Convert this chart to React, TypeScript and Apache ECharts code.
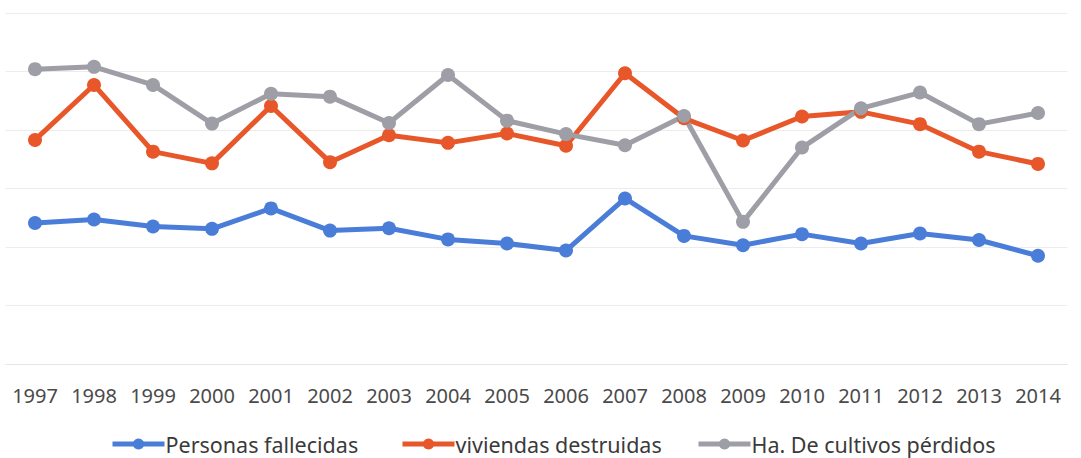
import React, { useEffect, useRef } from "react";
import * as echarts from "echarts";

const years = ["1997","1998","1999","2000","2001","2002","2003","2004","2005","2006","2007","2008","2009","2010","2011","2012","2013","2014"];
const personasFallecidas = [2.41,2.47,2.35,2.31,2.66,2.28,2.32,2.13,2.06,1.94,2.83,2.19,2.03,2.22,2.06,2.23,2.12,1.85];
const viviendasDestruidas = [3.83,4.77,3.63,3.43,4.41,3.45,3.91,3.78,3.94,3.73,4.97,4.20,3.82,4.23,4.31,4.10,3.63,3.42];
const haCultivosPerdidos = [5.04,5.08,4.77,4.11,4.62,4.57,4.12,4.94,4.16,3.93,3.74,4.24,2.43,3.70,4.37,4.64,4.10,4.29];
const seriesNames = ["Personas fallecidas", "viviendas destruidas", "Ha. De cultivos pérdidos"];
const seriesColors = ["#4a7dd8", "#e8572a", "#9e9ea6"];

const FONT = "'Noto Sans', sans-serif";

export default function App() {
  const ref = useRef<HTMLDivElement>(null);
  useEffect(() => {
    if (!ref.current) return;
    const chart = echarts.init(ref.current, undefined, { renderer: "svg" });
    const mk = (name: string, data: number[], color: string) => ({
      name,
      type: "line",
      data,
      symbol: "circle",
      symbolSize: 14,
      lineStyle: { color, width: 5 },
      itemStyle: { color },
      z: 2,
    });
    const legendLefts = [110, 400, 696];
    chart.setOption({
      animation: false,
      grid: { left: 5.5, right: 13.5, top: 13, bottom: 94 },
      legend: seriesNames.map((n, i) => ({
        left: legendLefts[i],
        top: 433,
        padding: 0,
        itemWidth: 52,
        itemHeight: 14,
        itemGap: 0,
        lineStyle: { width: 5 },
        textStyle: { fontFamily: FONT, fontSize: 21.5, color: "#3a3a3a", padding: [0, 0, 0, -4] },
        data: [n],
      })),
      xAxis: {
        type: "category",
        data: years,
        boundaryGap: true,
        axisLine: { lineStyle: { color: "#e6e6e6", width: 1 } },
        axisTick: { show: false },
        axisLabel: { interval: 0, hideOverlap: false, fontFamily: FONT, fontSize: 20, color: "#4a4a4a", margin: 21 },
      },
      yAxis: {
        type: "value",
        min: 0,
        max: 6,
        interval: 1,
        axisLabel: { show: false },
        axisLine: { show: false },
        axisTick: { show: false },
        splitLine: { lineStyle: { color: "#ececec", width: 1 } },
      },
      series: seriesNames.map((n, i) =>
        mk(n, [personasFallecidas, viviendasDestruidas, haCultivosPerdidos][i], seriesColors[i])
      ),
    });
    return () => chart.dispose();
  }, []);
  return (
    <div
      ref={ref}
      style={{ position: "fixed", left: 0, top: 0, width: 1081, height: 458, background: "#ffffff" }}
    />
  );
}
